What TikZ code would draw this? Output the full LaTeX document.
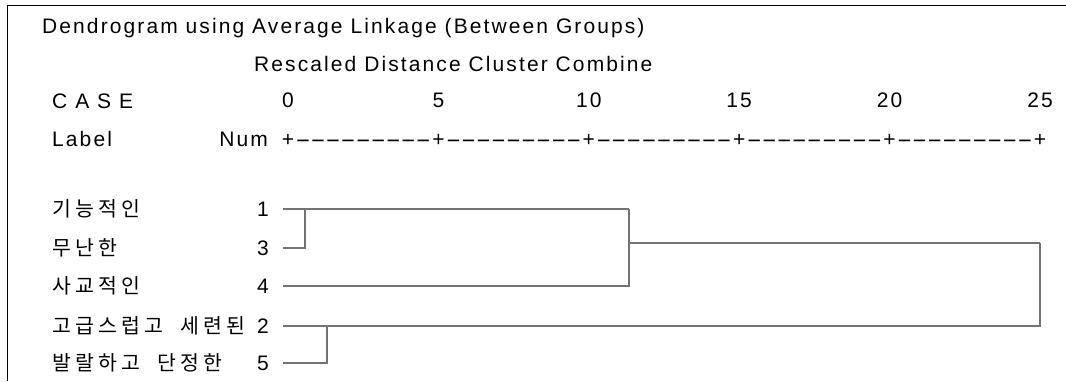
\documentclass[tikz,border=0pt]{standalone}
\usepackage{fontspec}
\setmainfont[LetterSpace=10]{Liberation Sans}
\newfontfamily\kor[LetterSpace=20,WordSpace=2]{Noto Sans CJK KR}
\usepackage{graphicx}
\tikzstyle{txt} = [anchor=base west, inner sep=0pt, font=\fontsize{21}{25}\selectfont]
\tikzstyle{txtr} = [anchor=base east, inner sep=0pt, font=\fontsize{21}{25}\selectfont]
\tikzstyle{tick} = [anchor=base, inner sep=0pt, font=\fontsize{21}{25}\selectfont]
\tikzstyle{leaf} = [anchor=west, inner sep=0pt, font=\fontsize{20.5}{24}\kor]
\tikzstyle{num} = [anchor=east, inner sep=0pt, font=\fontsize{21}{25}\selectfont]
\tikzstyle{link} = [draw=black!55, line width=1.3pt]
\tikzstyle{frame} = [draw=black, line width=1pt]

\begin{document}
\begin{tikzpicture}[x=1pt, y=-1pt]
  \useasboundingbox (0,0) rectangle (1066,381);
  \draw [frame] (7,381) -- (7,5) -- (1066,5);

  % header
  \node (title) at (42,33) [txt] {Dendrogram using Average Linkage (Between Groups)};
  \node (sub) at (254,71) [txt] {Rescaled Distance Cluster Combine};
  \node (case) at (52,108) [txt] {C A S E};
  \node (lbl) at (52,146) [txt] {Label};
  \node (num) at (268,146) [txtr] {Num};

  % distance scale
  \foreach \v [count=\i from 0] in {0,5,10,15,20,25} {
    \node (s\i) at (288+150.4*\i,107) [tick] {\v};
    \node (p\i) at (288+150.4*\i,146) [tick] {+};
  }
  \foreach \i in {0,...,4}
    \foreach \k in {1,...,9}
      \node (d\i\k) at (288+150.4*\i+15.04*\k,146) [tick] {\scalebox{2.2}[1]{-}};

  % cases
  \node (k1) at (52,209) [leaf] {기능적인};
  \node (k3) at (52,248) [leaf] {무난한};
  \node (k4) at (52,286) [leaf] {사교적인};
  \node (k2) at (52,326) [leaf] {고급스럽고 세련된};
  \node (k5) at (52,363) [leaf] {발랄하고 단정한};
  \node (n1) at (269,209) [num] {1};
  \node (n3) at (269,248) [num] {3};
  \node (n4) at (269,286) [num] {4};
  \node (n2) at (269,326) [num] {2};
  \node (n5) at (269,363) [num] {5};

  % joins
  \coordinate (j13) at (305,209);
  \coordinate (j25) at (327,326);
  \coordinate (j134) at (629,209);
  \coordinate (jall) at (1040,243);

  \draw [link] ([xshift=14]n1.east) -- (j134);
  \draw [link] ([xshift=14]n3.east) -| (j13);
  \draw [link] ([xshift=14]n4.east) -| (j134);
  \draw [link] (j134 |- jall) -- (jall);
  \draw [link] ([xshift=14]n2.east) -| (jall);
  \draw [link] ([xshift=14]n5.east) -| (j25);
\end{tikzpicture}
\end{document}
